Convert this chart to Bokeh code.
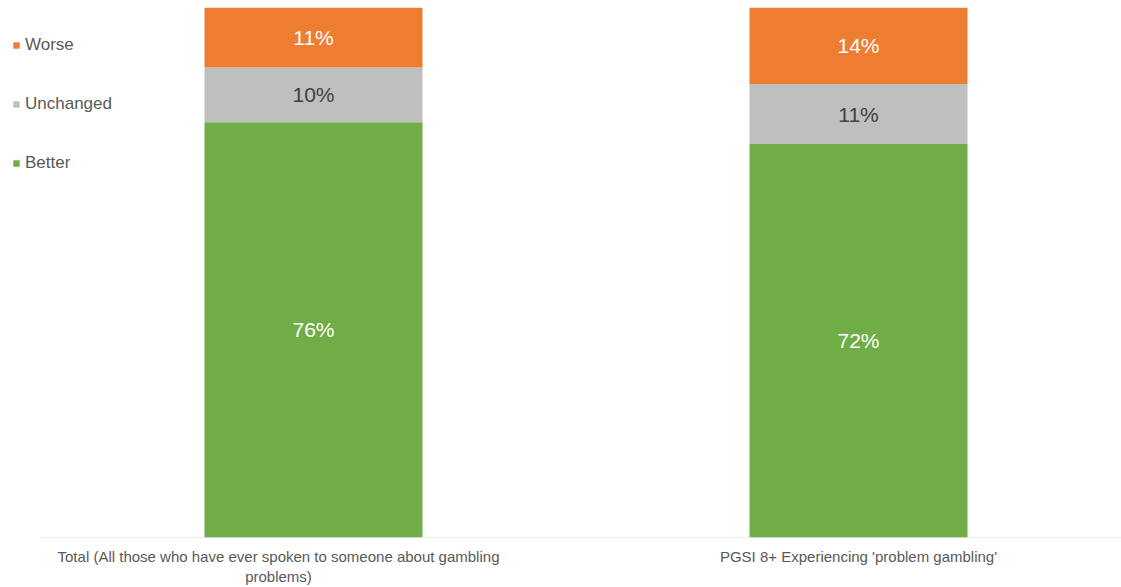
from bokeh.plotting import figure
from bokeh.models import ColumnDataSource, FixedTicker, Legend, LegendItem, Range1d
from bokeh.core.properties import value
from bokeh.embed import file_html
from bokeh.resources import INLINE

categories = ["Total (All those who have ever spoken to someone about gambling\nproblems)",
              "PGSI 8+ Experiencing 'problem gambling'"]
better = [76, 72]
unchanged = [10, 11]
worse = [11, 14]
series_names = ["Better", "Unchanged", "Worse"]
colors = ["#70AD47", "#BFBFBF", "#ED7D31"]
label_colors = ["#FFFFFF", "#404040", "#FFFFFF"]

xs = [0.5, 1.5]
# the first category's wrapped label box is shifted left of its bar, as in the original
label_xs = [xs[0] - 35 / 545, xs[1]]
x_start = 0.5 - 313 / 545
p = figure(width=1121, height=587, output_backend="svg", toolbar_location=None,
           x_range=Range1d(x_start, x_start + 1121 / 545), y_range=Range1d(0, 97),
           min_border_left=0, min_border_right=0, min_border_top=7, min_border_bottom=50)
p.outline_line_color = None
p.grid.grid_line_color = None
p.yaxis.visible = False
p.background_fill_color = "white"

# baseline (category axis line), starting at the first category boundary
p.segment(x0=[0], y0=[0], x1=[x_start + 1121 / 545], y1=[0], line_color="#D9D9D9", line_width=1)

renderers = []
bottoms = [0, 0]
for name, vals, col, lcol in zip(series_names, [better, unchanged, worse], colors, label_colors):
    tops = [b + v for b, v in zip(bottoms, vals)]
    src = ColumnDataSource(dict(x=xs, bottom=bottoms, top=tops,
                                mid=[(b + t) / 2 for b, t in zip(bottoms, tops)],
                                lab=[f"{v}%" for v in vals]))
    r = p.vbar(x="x", bottom="bottom", top="top", width=0.4, color=col, line_color=None, source=src)
    p.text(x="x", y="mid", text="lab", source=src, text_align="center", text_baseline="middle",
           text_color=lcol, text_font=value("Liberation Sans"), text_font_size="21px")
    renderers.append((name, r))
    bottoms = tops

legend = Legend(items=[LegendItem(label=n, renderers=[r]) for n, r in reversed(renderers)],
                location=(12, 364), orientation="vertical")
legend.glyph_width = 8
legend.glyph_height = 8
legend.label_height = 20
legend.spacing = 39
legend.padding = 0
legend.margin = 0
legend.label_standoff = 5
legend.border_line_alpha = 0
legend.background_fill_alpha = 0
legend.label_text_font = "Liberation Sans"
legend.label_text_font_size = "17px"
legend.label_text_color = "#595959"
p.add_layout(legend, "center")

ax = p.xaxis[0]
ax.ticker = FixedTicker(ticks=label_xs)
ax.major_label_overrides = {x: c for x, c in zip(label_xs, categories)}
ax.major_tick_line_color = None
ax.minor_tick_line_color = None
ax.axis_line_color = None
ax.major_label_text_font = "Liberation Sans"
ax.major_label_text_font_size = "15px"
ax.major_label_text_color = "#595959"
ax.major_label_standoff = 4

open("out.html", "w").write(file_html(p, INLINE))
